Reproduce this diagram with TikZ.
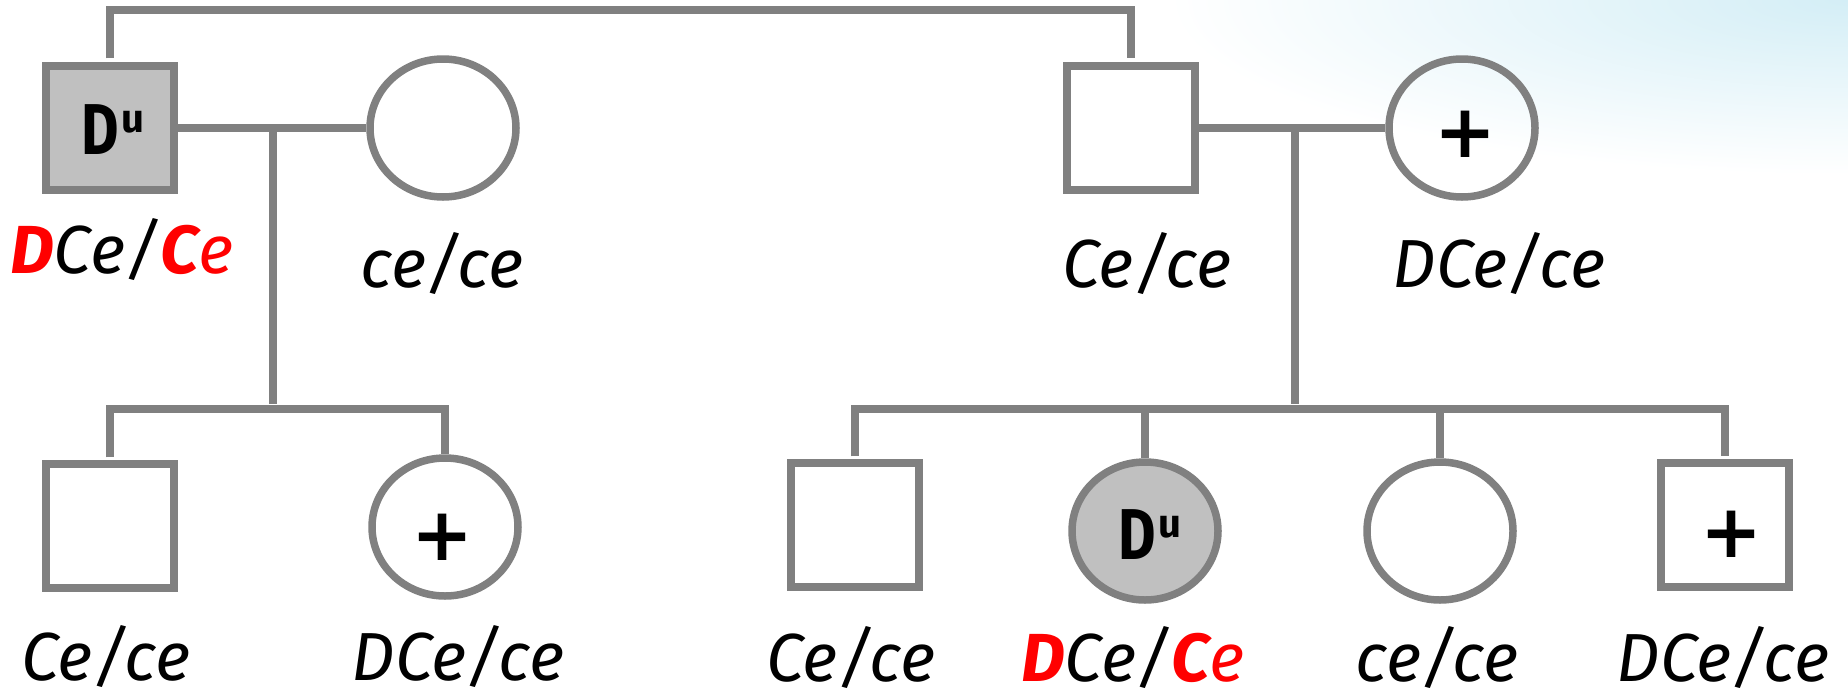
\documentclass[tikz,border=0pt]{standalone}
\usepackage{fontspec}
\usepackage{graphicx}
\setmainfont{Fira Sans}
\newfontfamily\plusfont{DejaVu Sans}
\usetikzlibrary{shapes.geometric}
\definecolor{lg}{RGB}{128,128,128}
\definecolor{fillg}{RGB}{192,192,192}
\definecolor{bgblue}{RGB}{212,238,246}
\definecolor{rd}{RGB}{255,0,0}
\tikzset{
  male/.style={draw=lg, line width=7.5pt, rectangle, minimum width=128pt, minimum height=124pt, inner sep=0pt},
  female/.style={draw=lg, line width=7.5pt, ellipse, minimum width=146pt, minimum height=138pt, inner sep=0pt},
  aff/.style={fill=fillg},
  conn/.style={draw=lg, line width=7.5pt},
  geno/.style={font=\fontsize{68}{80}\selectfont\itshape, anchor=base, inner sep=0pt},
  plussym/.style={font=\plusfont\bfseries\fontsize{74}{74}\selectfont, inner sep=0pt},
  dusym/.style={inner sep=0pt},
}
\newcommand{\Dusign}{{\fontsize{72}{72}\selectfont\bfseries\scalebox{0.8}[1]{D}}\kern3pt\raisebox{22pt}{\fontsize{40}{40}\selectfont\bfseries u}}
\begin{document}
\begin{tikzpicture}[x=1pt,y=-1pt]
\useasboundingbox (0,0) rectangle (1848,697);
\begin{scope}
  \clip (0,0) rectangle (1848,697);
  \shade[inner color=bgblue, outer color=white] (1848,0) ellipse [x radius=680, y radius=175];
\end{scope}
% generation I
\node[male, aff] (A) at (110,128) {};
\node[female] (B) at (443,128) {};
\node[male] (C) at (1131,128) {};
\node[female] (Dd) at (1462,128) {};
\node[dusym] (duA) at (113,130) {\Dusign};
\node[plussym] (pD) at (1465,134) {+};
% generation II
\node[male] (E) at (110,526) {};
\node[female] (F) at (445,527) {};
\node[male] (G) at (855,525) {};
\node[female, aff] (H) at (1145,531) {};
\node[female] (I) at (1440,531) {};
\node[male] (J) at (1725,525) {};
\node[plussym] (pF) at (442,537) {+};
\node[dusym] (duH) at (1150,535) {\Dusign};
\node[plussym] (pJ) at (1731,534) {+};
% connectors
\coordinate (topL) at (110,10);
\coordinate (topR) at (1131,10);
\draw[conn] ([yshift=4pt]A.north) -- (topL) -- (topR) -- ([yshift=4pt]C.north);
\draw[conn] (A.east) -- (B.west);
\draw[conn] (C.east) -- (Dd.west);
\coordinate (m1) at (273,128);
\coordinate (s1) at (273,404);
\coordinate (sib1) at (273,409);
\draw[conn] (m1) -- (s1);
\draw[conn] ([yshift=3pt]E.north) |- (sib1) -| (F.north);
\coordinate (m2) at (1295,128);
\coordinate (s2) at (1295,404);
\coordinate (sib2) at (1295,409);
\draw[conn] (m2) -- (s2);
\draw[conn] ([yshift=3pt]G.north) |- (sib2) -| ([yshift=3pt]J.north);
\draw[conn] (sib2 -| H.north) -- (H.north);
\draw[conn] (sib2 -| I.north) -- (I.north);
% genotypes
\node[geno] (gA) at (122,273) {\textcolor{rd}{\bfseries D}Ce/\textcolor{rd}{\bfseries C}\textcolor{rd}{e}};
\node[geno] (gB) at (442,287) {ce/ce};
\node[geno] (gC) at (1147,287) {Ce/ce};
\node[geno] (gD) at (1499,287) {DCe/ce};
\node[geno] (gE) at (106,680) {Ce/ce};
\node[geno] (gF) at (458,680) {DCe/ce};
\node[geno] (gG) at (851,681) {Ce/ce};
\node[geno] (gH) at (1133,681) {\textcolor{rd}{\bfseries D}Ce/\textcolor{rd}{\bfseries C}\textcolor{rd}{e}};
\node[geno] (gI) at (1437,681) {ce/ce};
\node[geno] (gJ) at (1723,681) {DCe/ce};
\end{tikzpicture}
\end{document}
